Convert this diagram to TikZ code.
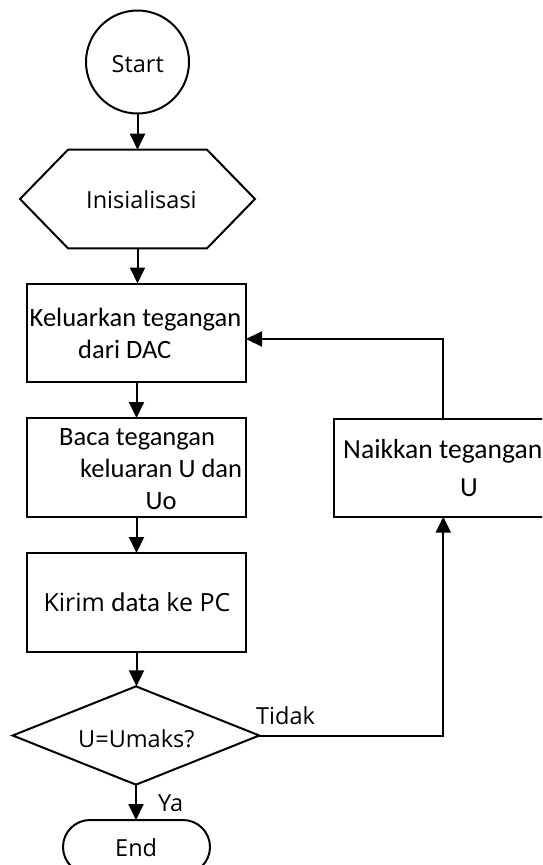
\documentclass[tikz,border=0pt]{standalone}
\usepackage{fontspec}
\setmainfont{Open Sans}
\newfontfamily\calfont{Carlito}
\usetikzlibrary{arrows.meta,shapes.geometric}
\begin{document}
\begin{tikzpicture}[x=1pt,y=-1pt,
  box/.style={draw, line width=2pt, inner sep=0pt, outer sep=0pt},
  arr/.style={-{Triangle[length=16pt,width=15pt]}, line width=2pt},
  ln/.style={line width=2pt},
  seg/.style={inner sep=0pt, anchor=base west, font=\fontsize{23.5}{28}\selectfont},
  cal/.style={inner sep=0pt, anchor=base west, font=\calfont\fontsize{26.5}{32}\selectfont},
  calbig/.style={inner sep=0pt, anchor=base west, font=\calfont\fontsize{27.6}{33}\selectfont}]
\useasboundingbox (0,0) rectangle (542,865);
\clip (0,0) rectangle (542,865);

% shapes
\node[box, circle, minimum size=103pt] (start) at (137.5,62) {};
\node[inner sep=0pt, outer sep=0pt, minimum width=235pt, minimum height=98.6pt] (init) at (137.5,199) {};
\draw[ln] ([xshift=48pt]init.north west) -- ([xshift=-48pt]init.north east) -- (init.east)
  -- ([xshift=-48pt]init.south east) -- ([xshift=48pt]init.south west) -- (init.west) -- cycle;
\node[box, minimum width=219pt, minimum height=98.5pt] (k1) at (136.5,332.75) {};
\node[box, minimum width=219pt, minimum height=98.7pt] (k2) at (136.5,467.35) {};
\node[box, minimum width=219pt, minimum height=98.7pt] (k3) at (136.5,602.35) {};
\node[box, diamond, minimum width=246.6pt, minimum height=98.3pt] (dec) at (136,735.5) {};
\node[box, rounded corners=27pt, minimum width=147pt, minimum height=54pt] (end) at (136.5,847) {};
\node[box, minimum width=218.6pt, minimum height=97.7pt] (naik) at (443.3,467.85) {};

% texts
\node[seg] (tstart) at (111.5,72.7) {Start};
\node[seg] (tinit) at (86,208.3) {Inisialisasi};
\node[cal] (tk1a) at (29.5,326.7) {Keluarkan tegangan};
\node[cal] (tk1b) at (78,358.7) {dari DAC};
\node[cal] (tk2a) at (59,445) {Baca tegangan};
\node[cal] (tk2b) at (80,477.5) {keluaran U dan};
\node[cal] (tk2c) at (145.5,509) {Uo};
\node[inner sep=0pt, anchor=base west] (tk3) at (43.3,611)
  {\fontsize{25}{30}\selectfont Kirim {\calfont\fontsize{27}{32}\selectfont data} ke PC};
\node[calbig] (tnaika) at (343,458) {Naikkan tegangan};
\node[calbig] (tnaikb) at (460,496) {U};
\node[seg] (tdec) at (78,747) {U=Umaks?};
\node[seg] (ttidak) at (256,724.3) {Tidak};
\node[seg] (tya) at (158,811) {Ya};
\node[seg] (tend) at (115,856) {End};

% connectors
\coordinate (fb) at (443.3,339);
\draw[arr] (start.south) -- (start.south |- init.north);
\draw[arr] (init.south) -- (init.south |- k1.north);
\draw[arr] (k1.south) -- (k2.north);
\draw[arr] (k2.south) -- (k3.north);
\draw[arr] (k3.south) -- (k3.south |- dec.north);
\draw[arr] (dec.south) -- (dec.south |- end.north);
\draw[arr] (dec.east) -- (dec.east -| fb) -- (naik.south -| fb);
\draw[arr] (naik.north -| fb) -- (fb) -- (fb -| k1.east);
\end{tikzpicture}
\end{document}
